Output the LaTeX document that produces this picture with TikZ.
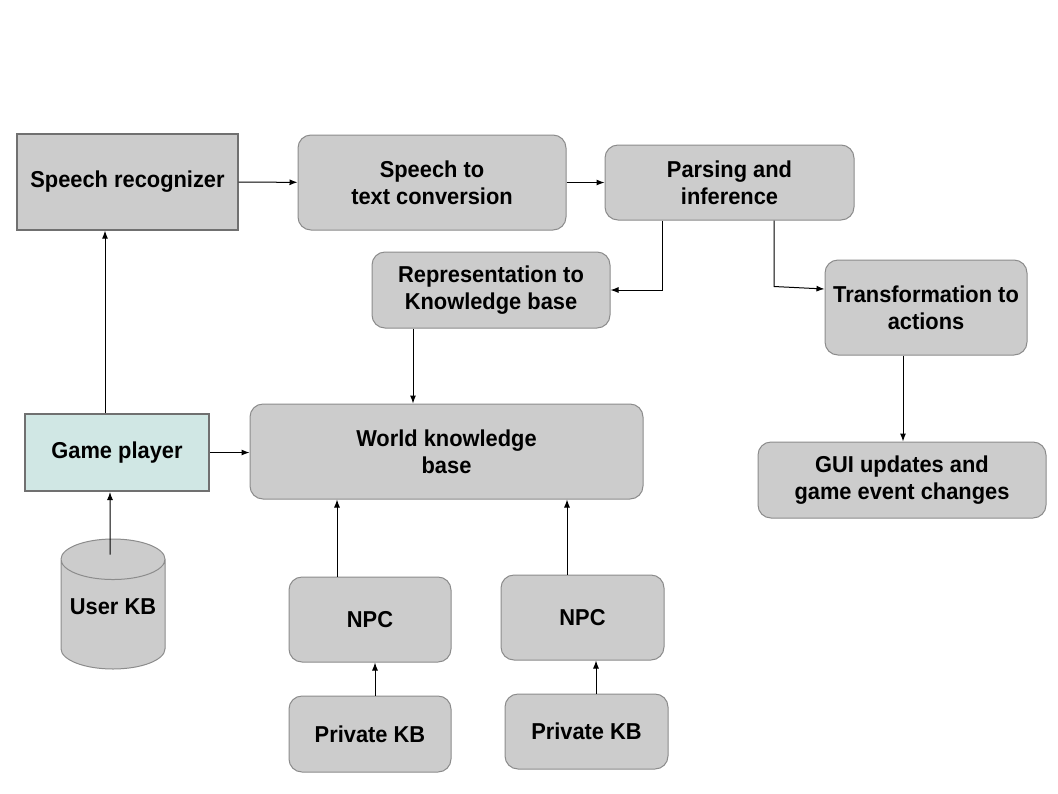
\documentclass[tikz,border=0pt]{standalone}
\usepackage{fontspec}
\setmainfont{Liberation Sans}[FakeStretch=0.95]
\usepackage{xcolor}
\usetikzlibrary{shapes.geometric,arrows.meta,positioning}
\definecolor{boxfill}{RGB}{204,204,204}
\definecolor{boxline}{RGB}{112,112,112}
\definecolor{roundline}{RGB}{140,140,140}
\definecolor{playerfill}{RGB}{208,231,228}

\begin{document}
\begin{tikzpicture}[x=1pt, y=-1pt,
	every node/.style = {align=center, inner sep=0pt,
	font=\bfseries\fontsize{23}{27}\selectfont},
	box/.style = {shape=rectangle, draw=boxline, fill=boxfill, line width=1.3pt},
	rbox/.style = {box, draw=roundline, line width=1pt, rounded corners=13pt},
	link/.style = {-{Latex[length=8pt,width=6pt]}, line width=1pt}
]
\fill[white] (0,0) rectangle (1058,793);
\useasboundingbox (0,0) rectangle (1058,793);

% top row
\node[box, minimum width=221pt, minimum height=96pt] (recog) at (127.5,182) {Speech recognizer};
\node[rbox, minimum width=268pt, minimum height=95pt] (speech) at (432,182.5) {Speech to\\text conversion};
\node[rbox, minimum width=249pt, minimum height=75pt] (pars) at (729.5,182.5) {Parsing and\\inference};
\node[rbox, minimum width=238pt, minimum height=76pt] (repr) at (491,290) {Representation to\\ Knowledge base};
\node[rbox, minimum width=202pt, minimum height=95pt] (trans) at (926,307.5) {Transformation to\\actions};
\node[rbox, minimum width=288pt, minimum height=76pt] (gui) at (902,480) {GUI updates and\\game event changes};

% player and world
\node[box, fill=playerfill, line width=2pt, minimum width=184pt, minimum height=77pt] (player) at (117,452.5) {Game player};
\node[rbox, minimum width=393pt, minimum height=95pt] (world) at (446.5,451.5) {World knowledge\\base};
\node[cylinder, shape border rotate=90, aspect=0.47, draw=roundline, fill=boxfill, line width=1pt,
	minimum width=104pt, minimum height=130pt, text height=20pt, text depth=20pt,
	anchor=shape center] (userkb) at (113,604) {User KB};

% npcs
\node[rbox, minimum width=162pt, minimum height=85pt] (npcA) at (370,619.5) {NPC};
\node[rbox, minimum width=163pt, minimum height=85pt] (npcB) at (582.5,617.5) {NPC};
\node[rbox, minimum width=162pt, minimum height=76pt] (privA) at (370,734) {Private KB};
\node[rbox, minimum width=163pt, minimum height=75pt] (privB) at (586.5,731.5) {Private KB};

\draw[link] (recog) -- (speech);
\draw[link] (speech) -- (pars);
\draw[link] ([xshift=-67.5pt]pars.south) |- (repr.east);
\draw[link] ([xshift=44.5pt]pars.south) -- ++(0,66) -- ([yshift=18.5pt]trans.west);
\draw[link] ([xshift=-78pt]repr.south) -- ([xshift=-33.5pt]world.north);
\draw[link] ([xshift=-23pt]trans.south) -- ([xshift=1pt]gui.north);
\draw[link] ([xshift=-12pt]player.north) -- ([xshift=-22.5pt]recog.south);
\draw[link] (player.east) -- (player.east -| world.west);
\draw[link] ([xshift=-3pt,yshift=-16pt]userkb.north) -- ([xshift=-7pt]player.south);
\draw[link] ([xshift=-33pt]npcA.north) -- ([xshift=-109.5pt]world.south);
\draw[link] ([xshift=-15.5pt]npcB.north) -- ([xshift=120.5pt]world.south);
\draw[link] ([xshift=5pt]privA.north) -- ([xshift=5pt]npcA.south);
\draw[link] ([xshift=9.5pt]privB.north) -- ([xshift=13.5pt]npcB.south);
\end{tikzpicture}
\end{document}
